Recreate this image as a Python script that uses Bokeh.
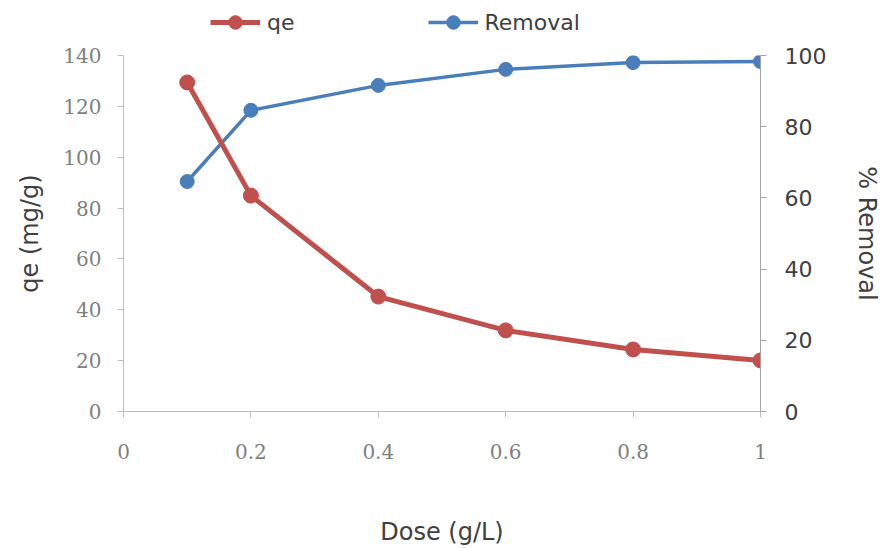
from bokeh.plotting import figure
from bokeh.layouts import column
from bokeh.models import Range1d, LinearAxis, Legend, LegendItem, FixedTicker
from bokeh.embed import file_html
from bokeh.resources import INLINE

# ---- data ----
dose = [0.1, 0.2, 0.4, 0.6, 0.8, 1.0]
qe = [129.4, 84.9, 45.2, 31.9, 24.4, 20.1]
removal = [64.6, 84.6, 91.6, 96.1, 98.0, 98.3]

x_ticks = [0, 0.2, 0.4, 0.6, 0.8, 1.0]
x_tick_labels = ["0", "0.2", "0.4", "0.6", "0.8", "1"]
qe_ticks = [0, 20, 40, 60, 80, 100, 120, 140]
removal_ticks = [0, 20, 40, 60, 80, 100]
series_names = ["qe", "Removal"]

RED = "#c0504d"
BLUE = "#4a7ebb"
SANS = "DejaVu Sans"
SERIF = "DejaVu Serif"

p = figure(width=884, height=503, output_backend="svg", toolbar_location=None,
           x_range=Range1d(0, 1), y_range=Range1d(0, 140),
           min_border_left=123, min_border_top=10, min_border_right=10,
           min_border_bottom=10, background_fill_color="white",
           border_fill_color="white")
p.extra_y_ranges = {"r": Range1d(0, 100)}
p.xgrid.visible = False
p.ygrid.visible = False
p.outline_line_color = None

# bottom axis
xa = p.xaxis[0]
xa.ticker = FixedTicker(ticks=x_ticks)
xa.major_label_overrides = {t: l for t, l in zip(x_ticks, x_tick_labels)}
xa.axis_label = "Dose (g/L)"
xa.axis_line_color = "#bfbfbf"
xa.major_tick_line_color = "#bfbfbf"
xa.major_tick_in = 0
xa.major_tick_out = 6
xa.minor_tick_line_color = None
xa.major_label_text_font = SERIF
xa.major_label_text_font_size = "20px"
xa.major_label_text_color = "#7f7f7f"
xa.major_label_standoff = 26
xa.axis_label_text_font = SANS
xa.axis_label_text_font_style = "normal"
xa.axis_label_text_font_size = "24px"
xa.axis_label_text_color = "#404040"
xa.axis_label_standoff = 56

# left axis
ya = p.yaxis[0]
ya.ticker = FixedTicker(ticks=qe_ticks)
ya.axis_label = "qe (mg/g)"
ya.axis_line_color = "#bfbfbf"
ya.major_tick_line_color = "#bfbfbf"
ya.major_tick_in = 0
ya.major_tick_out = 6
ya.minor_tick_line_color = None
ya.major_label_text_font = SERIF
ya.major_label_text_font_size = "20px"
ya.major_label_text_color = "#7f7f7f"
ya.major_label_standoff = 16
ya.axis_label_text_font = SANS
ya.axis_label_text_font_style = "normal"
ya.axis_label_text_font_size = "24px"
ya.axis_label_text_color = "#404040"
ya.axis_label_standoff = 16

# right axis
ra = LinearAxis(y_range_name="r", ticker=FixedTicker(ticks=removal_ticks))
ra.axis_label = "% Removal"
ra.axis_line_color = "#a6a6a6"
ra.major_tick_line_color = "#a6a6a6"
ra.major_tick_in = 0
ra.major_tick_out = 6
ra.minor_tick_line_color = None
ra.major_label_text_font = SANS
ra.major_label_text_font_size = "22px"
ra.major_label_text_color = "#404040"
ra.major_label_standoff = 18
ra.axis_label_text_font = SANS
ra.axis_label_text_font_style = "normal"
ra.axis_label_text_font_size = "24px"
ra.axis_label_text_color = "#404040"
ra.axis_label_standoff = 24
p.add_layout(ra, "right")

# series
p.line(dose, removal, y_range_name="r", line_color=BLUE, line_width=3.5)
p.scatter(dose, removal, y_range_name="r", size=14, fill_color=BLUE,
          line_color=BLUE, marker="circle")
p.line(dose, qe, line_color=RED, line_width=5)
p.scatter(dose, qe, size=15, fill_color=RED, line_color=RED, marker="circle")

# legend strip above the chart (its renderers are hidden; only the legend shows)
lf = figure(width=884, height=45, output_backend="svg", toolbar_location=None,
            x_range=Range1d(0, 1), y_range=Range1d(0, 140), min_border=0,
            border_fill_color="white", background_fill_color="white")
lf.axis.visible = False
lf.grid.visible = False
lf.outline_line_color = None
lrl = lf.line(dose, qe, line_color=RED, line_width=5, visible=False)
lrs = lf.scatter(dose, qe, size=15, fill_color=RED, line_color=RED,
                 marker="circle", visible=False)
lbl = lf.line(dose, qe, line_color=BLUE, line_width=3.5, visible=False)
lbs = lf.scatter(dose, qe, size=14, fill_color=BLUE, line_color=BLUE,
                 marker="circle", visible=False)

legend = Legend(items=[LegendItem(label=series_names[0], renderers=[lrl, lrs]),
                       LegendItem(label=series_names[1], renderers=[lbl, lbs])],
                orientation="horizontal", location=(87, 6),
                glyph_width=50, glyph_height=34, label_standoff=7, spacing=133,
                padding=2, margin=0,
                label_text_font=SANS, label_text_font_size="22px",
                label_text_color="#404040", inactive_fill_alpha=0,
                background_fill_alpha=0, border_line_color=None)
lf.add_layout(legend, "center")

layout = column(lf, p, spacing=0)
open("out.html", "w").write(file_html(layout, INLINE))
